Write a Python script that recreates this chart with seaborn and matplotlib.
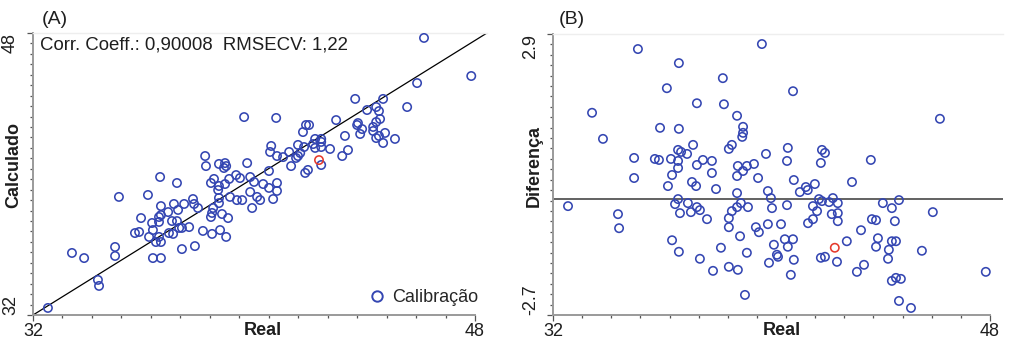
import numpy as np
import pandas as pd
import matplotlib
matplotlib.use("Agg")
import matplotlib.pyplot as plt
from matplotlib.lines import Line2D
import seaborn as sns

# ---------------- Panel A: Calculado vs Real ----------------
real_a = [46.15, 47.86, 45.90, 43.66, 44.67, 45.54, 44.42, 44.09, 44.52, 39.64,
          40.80, 42.97, 44.56, 44.42, 43.76, 43.73, 41.88, 41.99, 44.31, 43.91,
          41.77, 44.31, 44.74, 43.84, 43.29, 44.52, 44.42, 45.10, 42.21, 42.43,
          42.43, 44.67, 40.62, 41.59, 42.14, 42.43, 41.81, 42.21, 42.75, 40.58,
          41.27, 43.40, 38.23, 40.83, 41.05, 41.59, 41.52, 43.19, 38.26, 38.73,
          38.95, 38.99, 38.91, 39.75, 41.34, 42.43, 41.95, 41.85, 40.54, 41.67,
          36.60, 37.21, 35.11, 36.16, 38.44, 38.55, 38.73, 38.70, 38.95, 39.10,
          39.35, 39.49, 39.86, 40.00, 40.33, 40.54, 40.83, 40.83, 40.69, 39.86,
          40.11, 40.22, 39.93, 39.38, 39.57, 39.13, 38.73, 38.52, 38.48, 38.44,
          38.84, 39.06, 38.73, 37.79, 37.83, 37.97, 37.47, 37.10, 36.63, 37.25,
          36.89, 36.63, 36.56, 35.91, 36.31, 36.56, 37.03, 37.21, 37.29, 37.39,
          37.65, 36.34, 35.69, 35.84, 36.20, 36.56, 36.92, 37.07, 38.15, 38.48,
          38.77, 38.99, 36.45, 36.63, 37.39, 37.86, 34.97, 33.41, 33.85, 34.97,
          36.34, 36.63, 34.35, 34.39, 32.54]
calc_a = [47.72, 45.56, 45.16, 44.26, 44.26, 43.80, 43.80, 43.63, 43.57, 43.23,
          43.18, 43.06, 43.12, 42.95, 42.89, 42.78, 42.78, 42.78, 42.67, 42.55,
          42.38, 42.44, 42.33, 42.27, 42.16, 42.16, 42.04, 41.99, 41.99, 41.99,
          41.82, 41.76, 41.59, 41.65, 41.70, 41.53, 41.53, 41.48, 41.42, 41.25,
          41.25, 41.36, 41.02, 41.02, 40.96, 41.02, 40.91, 41.02, 40.45, 40.57,
          40.62, 40.45, 40.34, 40.62, 40.45, 40.51, 40.23, 40.06, 40.17, 41.19,
          39.83, 39.49, 38.70, 38.81, 39.49, 39.72, 39.32, 39.09, 39.43, 39.72,
          39.94, 39.77, 39.83, 39.55, 39.43, 39.21, 39.49, 39.04, 38.58, 38.98,
          38.70, 38.52, 38.07, 38.52, 38.52, 38.70, 38.64, 38.07, 37.79, 37.56,
          37.73, 37.50, 38.35, 38.58, 38.30, 38.07, 38.30, 38.30, 38.18, 37.96,
          37.84, 37.67, 37.56, 37.50, 37.22, 37.28, 37.33, 37.33, 36.94, 36.94,
          36.99, 36.82, 36.65, 36.71, 36.43, 36.43, 36.65, 36.60, 36.77, 36.60,
          36.82, 36.43, 36.14, 36.14, 35.74, 35.91, 35.86, 35.52, 35.23, 35.35,
          35.23, 35.23, 33.99, 33.65, 32.40]
real_a_red = [42.35]
calc_a_red = [40.79]
fit_slope = 0.974
fit_intercept = 0.83
stats_text = "Corr. Coeff.: 0,90008  RMSECV: 1,22"

# ---------------- Panel B: Diferença vs Real ----------------
real_b = [35.11, 39.65, 36.61, 38.22, 36.17, 40.79, 37.27, 38.26, 33.43, 38.74,
          46.17, 35.92, 36.61, 38.96, 38.96, 38.93, 33.83, 37.13, 38.55, 38.44,
          40.60, 41.85, 41.96, 36.58, 36.69, 36.91, 39.80, 34.97, 35.73, 35.88,
          36.32, 36.58, 37.49, 37.82, 40.57, 41.81, 43.64, 37.27, 38.77, 39.10,
          39.36, 36.58, 34.97, 36.36, 37.09, 37.24, 36.21, 37.82, 38.74, 38.96,
          37.97, 39.51, 40.82, 41.26, 41.33, 41.04, 41.59, 42.95, 39.87, 38.74,
          36.58, 39.98, 42.25, 41.74, 41.85, 32.55, 36.47, 36.94, 38.88, 42.43,
          44.08, 44.67, 44.41, 37.27, 37.38, 38.74, 39.14, 40.57, 41.52, 42.11,
          40.02, 34.38, 36.65, 37.05, 38.55, 41.67, 42.21, 42.43, 45.91, 37.64,
          38.44, 44.52, 42.43, 41.34, 41.52, 43.68, 43.83, 34.42, 38.44, 39.43,
          39.54, 39.87, 40.35, 43.28, 38.85, 36.36, 40.49, 40.79, 42.76, 43.90,
          44.41, 44.56, 40.09, 40.60, 43.83, 38.15, 36.61, 39.10, 44.30, 45.51,
          40.20, 40.24, 41.81, 41.96, 37.38, 44.27, 40.82, 42.40, 39.91, 43.39,
          38.44, 38.77, 37.86, 43.13, 47.85, 40.71, 44.41, 44.56, 44.74, 39.03,
          44.67, 45.11]
diff_b = [2.60, 2.70, 2.32, 2.02, 1.82, 1.76, 1.52, 1.50, 1.33, 1.27,
          1.21, 1.03, 1.01, 1.05, 0.93, 0.85, 0.81, 0.69, 0.69, 0.61,
          0.63, 0.59, 0.53, 0.59, 0.55, 0.51, 0.51, 0.43, 0.41, 0.39,
          0.41, 0.37, 0.39, 0.37, 0.37, 0.33, 0.39, 0.29, 0.27, 0.27,
          0.31, 0.23, 0.03, 0.09, -0.05, -0.13, -0.13, 0.13, 0.07, 0.17,
          -0.19, 0.03, -0.01, -0.15, -0.21, -0.25, -0.09, -0.05, -0.23, -0.27,
          -0.39, -0.37, -0.37, -0.39, -0.43, -0.53, -0.49, -0.47, -0.47, -0.47,
          -0.47, -0.41, -0.57, -0.55, -0.61, -0.55, -0.55, -0.51, -0.53, -0.45,
          -0.57, -0.69, -0.67, -0.65, -0.63, -0.63, -0.69, -0.67, -0.65, -0.79,
          -0.77, -0.83, -0.83, -0.87, -0.79, -0.79, -0.81, -0.97, -0.95, -0.95,
          -1.05, -0.89, -0.89, -1.01, -1.13, -1.21, -1.19, -1.19, -1.23, -1.17,
          -1.23, -1.23, -1.30, -1.34, -1.34, -1.36, -1.44, -1.46, -1.40, -1.42,
          -1.50, -1.54, -1.56, -1.54, -1.58, -1.58, -1.60, -1.64, -1.66, -1.70,
          -1.74, -1.80, -1.82, -1.84, -1.84, -1.90, -2.02, -1.96, -1.98, -2.30,
          -2.42, -2.56]
real_b_red = [42.32]
diff_b_red = [-1.36]
ref_level = -0.39

x_tick_labels = ["32", "48"]
ya_tick_labels = ["32", "48"]
yb_tick_labels = ["-2.7", "2.9"]

# ---------------- styling ----------------
sns.set_style("white")
plt.rcParams["font.family"] = ["Liberation Sans", "DejaVu Sans"]

BLUE = "#3446b2"
RED = "#e53a2c"
TXT = "#1e1e1e"
SPINE = "#9a9a9a"

W, H = 1013, 341
fig = plt.figure(figsize=(W / 100, H / 100), dpi=100)
axA = fig.add_axes([33 / W, 1 - 315 / H, 454 / W, 282 / H])
axB = fig.add_axes([553 / W, 1 - 315 / H, 450 / W, 281 / H])


def hollow(ax, color, lw=1.15):
    coll = ax.collections[-1]
    coll.set_facecolor("none")
    coll.set_edgecolor(color)
    coll.set_linewidth(lw)


def style_axes(ax, xlo, xhi, xmax, ylo, yhi, ylabels, ylab, xl_x, yl_y):
    ax.set_xlim(xlo, xmax)
    ax.set_ylim(ylo, yhi)
    ax.spines["right"].set_visible(False)
    ax.spines["top"].set_color("#eeeeee")
    ax.spines["top"].set_linewidth(1.0)
    for s in ["left", "bottom"]:
        ax.spines[s].set_color(SPINE)
        ax.spines[s].set_linewidth(1.4)
    ax.spines["bottom"].set_bounds(xlo, xhi)
    ax.set_xticks([xlo, xhi])
    ax.set_xticklabels(x_tick_labels)
    ax.set_xticks(np.linspace(xlo, xhi, 16), minor=True)
    ax.set_yticks([ylo, yhi])
    ax.set_yticklabels(ylabels, rotation=90)
    ax.set_yticks(np.linspace(ylo, yhi, 28), minor=True)
    ax.tick_params(which="both", direction="out", color="#555555", width=0.9,
                   bottom=True, left=True, top=False, right=False)
    ax.tick_params(which="major", length=4, labelsize=13, labelcolor=TXT)
    ax.tick_params(which="minor", length=2.5)
    ax.tick_params(axis="x", which="major", pad=2)
    ax.tick_params(axis="y", which="major", pad=6)
    yl = ax.get_yticklabels()
    yl[0].set_va("bottom")
    yl[1].set_va("top")
    ax.set_xlabel("Real", fontsize=13, fontweight="bold", color=TXT)
    ax.xaxis.set_label_coords(xl_x, -0.025)
    ax.set_ylabel(ylab, fontsize=13, fontweight="bold", color=TXT, va="center")
    ax.yaxis.set_label_coords(-0.042, yl_y)
    ax.grid(False)


# ---- Panel A ----
dfA = pd.DataFrame({"Real": real_a, "Calculado": calc_a})
sns.scatterplot(data=dfA, x="Real", y="Calculado", ax=axA, s=36, legend=False, zorder=3)
hollow(axA, BLUE)
dfAr = pd.DataFrame({"Real": real_a_red, "Calculado": calc_a_red})
sns.scatterplot(data=dfAr, x="Real", y="Calculado", ax=axA, s=36, legend=False, zorder=3)
hollow(axA, RED)
xs = np.array([32.0, 48.43])
axA.plot(xs, fit_intercept + fit_slope * xs, color="black", lw=0.9, zorder=2)
style_axes(axA, 32, 48, 48.43, 32, 48, ya_tick_labels, "Calculado", 0.507, 0.532)
axA.text(0.0154, 0.987, stats_text, transform=axA.transAxes, fontsize=13.4,
         color=TXT, va="top", ha="left")
handle = Line2D([], [], marker="o", ls="", mfc="none", mec=BLUE, ms=7.5, mew=1.4)
axA.legend(handles=[handle], labels=["Calibração"], loc="lower right",
           frameon=False, fontsize=13, handletextpad=0.3, borderaxespad=0.1,
           borderpad=0.4, handlelength=1.0)

# ---- Panel B ----
dfB = pd.DataFrame({"Real": real_b, "Diferença": diff_b})
sns.scatterplot(data=dfB, x="Real", y="Diferença", ax=axB, s=36, legend=False, zorder=3)
hollow(axB, BLUE)
dfBr = pd.DataFrame({"Real": real_b_red, "Diferença": diff_b_red})
sns.scatterplot(data=dfBr, x="Real", y="Diferença", ax=axB, s=36, legend=False, zorder=3)
hollow(axB, RED)
axB.axhline(ref_level, color="#555555", lw=1.3, zorder=2)
style_axes(axB, 32, 48, 48.48, -2.7, 2.9, yb_tick_labels, "Diferença", 0.509, 0.530)

fig.text(42 / W, 1 - 11 / H, "(A)", fontsize=14, color=TXT, va="top", ha="left")
fig.text(559 / W, 1 - 11 / H, "(B)", fontsize=14, color=TXT, va="top", ha="left")

fig.savefig("out.png", dpi=100)
